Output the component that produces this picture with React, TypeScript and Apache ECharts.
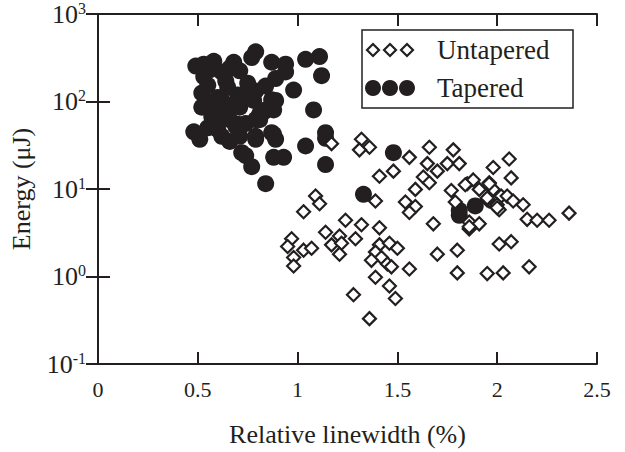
import React, { useEffect, useRef } from "react";
import * as echarts from "echarts";

const untaperedX = [1.32,1.36,1.31,1.17,1.66,1.78,1.56,1.65,1.70,1.75,1.81,1.63,1.66,1.48,1.41,2.06,1.98,2.07,1.59,1.85,1.88,1.91,1.77,1.96,1.98,2.02,2.05,2.08,2.13,1.96,2.00,2.01,1.79,1.54,1.59,1.56,1.39,1.09,1.11,1.03,1.68,1.86,1.91,1.86,2.15,2.20,2.26,2.36,1.24,1.32,1.41,1.14,1.21,1.29,0.97,0.95,0.98,0.98,1.03,1.07,1.17,1.22,1.21,1.41,1.46,1.50,1.39,1.42,1.45,1.47,1.37,1.56,1.39,1.46,1.49,1.28,1.36,1.84,1.96,1.86,1.95,2.00,1.70,1.80,1.80,1.95,2.01,2.07,2.16,2.03,1.95];
const untaperedY = [37,30,28,33,30,28,23,19.5,16,19.5,19.5,13.7,11.8,16,14,22,17.6,13.4,9.9,11.5,12.7,9.9,9.6,11.8,9.9,8.3,8.3,7.3,6.6,7.3,6.6,5.8,7.1,7.1,6.3,5.4,7.3,8.3,6.8,5.5,4.0,4.2,4.0,3.5,4.5,4.4,4.4,5.3,4.4,3.9,3.6,3.2,2.9,2.7,2.7,2.2,1.65,1.32,2.0,2.1,2.3,2.4,1.8,2.3,2.4,2.1,1.9,1.65,1.39,1.29,1.53,1.22,0.98,0.78,0.56,0.62,0.33,11.2,11.5,3.7,7.5,6.1,1.8,2.0,1.1,1.08,2.35,2.5,1.29,1.1,7.9];

const taperedX = [0.49,0.58,0.68,0.79,0.77,0.87,0.94,1.04,1.11,1.12,0.53,0.62,0.71,0.52,0.60,0.70,0.79,0.89,0.94,0.98,0.87,1.08,0.59,0.71,0.83,0.61,0.84,0.48,0.51,0.60,0.62,0.69,0.74,0.79,0.71,0.79,0.87,0.89,0.72,0.74,0.88,0.93,1.04,1.14,1.14,1.14,0.77,0.84,0.62,0.71,0.78,0.89,0.81,0.88,0.70,0.81,0.79,0.88,0.57,0.55,0.53,0.64,0.75,0.52,0.56,0.66,0.65,0.56,0.66,0.76,0.84,0.66,0.55,0.66,1.48,1.33,1.81,1.89,1.81];
const taperedY = [254,288,281,370,318,281,267,303,326,197,192,218,224,125,111,119,132,183,218,135,105,80,76,86,76,70,80,45,37,48,40,52,56,62,40,37,44,37,26,24,23,23,31,44,38,19,18,11.5,103,97,103,103,72,80,55,62,40,42,67,153,267,172,162,86,230,240,145,95,90,120,150,62,50,35,26,8.7,5.0,6.4,5.7];

const xTicks = { min: 0, max: 2.5, interval: 0.5 };
const yRange = { min: 0.1, max: 1000 };
const seriesNames = ["Untapered", "Tapered"];

const INK = "#231f20";
const FONT = "'Liberation Serif', 'Times New Roman', 'DejaVu Serif', serif";

export default function App() {
  const ref = useRef<HTMLDivElement>(null);
  useEffect(() => {
    if (!ref.current) return;
    const chart = echarts.init(ref.current, undefined, { renderer: "svg" });
    const untapered = untaperedX.map((x, i) => [x, untaperedY[i]]);
    const tapered = taperedX.map((x, i) => [x, taperedY[i]]);
    const supFmt = (v: number) => {
      const e = Math.round(Math.log10(v));
      return `{b|10}{s|${e}}`;
    };
    const axisLine = { show: true, lineStyle: { color: INK, width: 2 } };
    const tick = { show: true, inside: true, length: 12, lineStyle: { color: INK, width: 2 } };
    const diamond = (cx: number, cy: number) => ({
      type: "polygon",
      z: 20,
      shape: { points: [[cx, cy - 6], [cx + 6, cy], [cx, cy + 6], [cx - 6, cy]] },
      style: { fill: "#fff", stroke: INK, lineWidth: 2.2 },
    });
    const dot = (cx: number, cy: number) => ({
      type: "circle",
      z: 20,
      shape: { cx, cy, r: 8 },
      style: { fill: INK },
    });
    chart.setOption({
      animation: false,
      backgroundColor: "#fff",
      grid: { left: 93, right: 28, top: 12, bottom: 74, containLabel: false },
      xAxis: [
        {
          type: "value",
          min: xTicks.min,
          max: xTicks.max,
          interval: xTicks.interval,
          position: "bottom",
          axisLine,
          axisTick: tick,
          splitLine: { show: false },
          axisLabel: { color: INK, fontFamily: FONT, fontSize: 22, margin: 14 },
          name: "Relative linewidth (%)",
          nameLocation: "middle",
          nameGap: 57,
          nameTextStyle: { color: INK, fontFamily: FONT, fontSize: 26 },
        },
        {
          type: "value",
          min: xTicks.min,
          max: xTicks.max,
          interval: xTicks.interval,
          position: "top",
          axisLine,
          axisTick: tick,
          splitLine: { show: false },
          axisLabel: { show: false },
        },
      ],
      yAxis: [
        {
          type: "log",
          logBase: 10,
          min: yRange.min,
          max: yRange.max,
          position: "left",
          axisLine,
          axisTick: tick,
          minorTick: { show: false },
          splitLine: { show: false },
          axisLabel: {
            color: INK,
            fontFamily: FONT,
            margin: 12,
            formatter: supFmt,
            rich: {
              b: { fontFamily: FONT, fontSize: 26, color: INK, lineHeight: 28 },
              s: { fontFamily: FONT, fontSize: 16, color: INK, verticalAlign: "top", lineHeight: 28 },
            },
          },
          name: "Energy (μJ)",
          nameLocation: "middle",
          nameGap: 64,
          nameTextStyle: { color: INK, fontFamily: FONT, fontSize: 26 },
        },
        {
          type: "log",
          logBase: 10,
          min: yRange.min,
          max: yRange.max,
          position: "right",
          axisLine,
          axisTick: tick,
          splitLine: { show: false },
          axisLabel: { show: false },
        },
      ],
      series: [
        {
          name: seriesNames[1],
          type: "scatter",
          data: tapered,
          symbol: "circle",
          symbolSize: 17,
          itemStyle: { color: INK, opacity: 1 },
          z: 2,
        },
        {
          name: seriesNames[0],
          type: "scatter",
          data: untapered,
          symbol: "diamond",
          symbolSize: 13,
          itemStyle: { color: "#fff", borderColor: INK, borderWidth: 2.2, opacity: 1 },
          z: 3,
        },
      ],
      graphic: [
        {
          type: "rect",
          z: 10,
          shape: { x: 362, y: 30, width: 211, height: 78 },
          style: { fill: "#fff", stroke: INK, lineWidth: 1.5 },
        },
        diamond(373, 50),
        diamond(390, 50),
        diamond(407, 50),
        dot(373, 88),
        dot(390, 88),
        dot(407, 88),
        {
          type: "text",
          x: 437,
          y: 50,
          z: 20,
          style: { text: seriesNames[0], fontFamily: FONT, fontSize: 27, fill: INK, verticalAlign: "middle" },
        },
        {
          type: "text",
          x: 437,
          y: 88,
          z: 20,
          style: { text: seriesNames[1], fontFamily: FONT, fontSize: 27, fill: INK, verticalAlign: "middle" },
        },
      ],
    });
    return () => chart.dispose();
  }, []);
  return <div ref={ref} style={{ position: "absolute", left: 0, top: 0, width: 625, height: 452 }} />;
}
